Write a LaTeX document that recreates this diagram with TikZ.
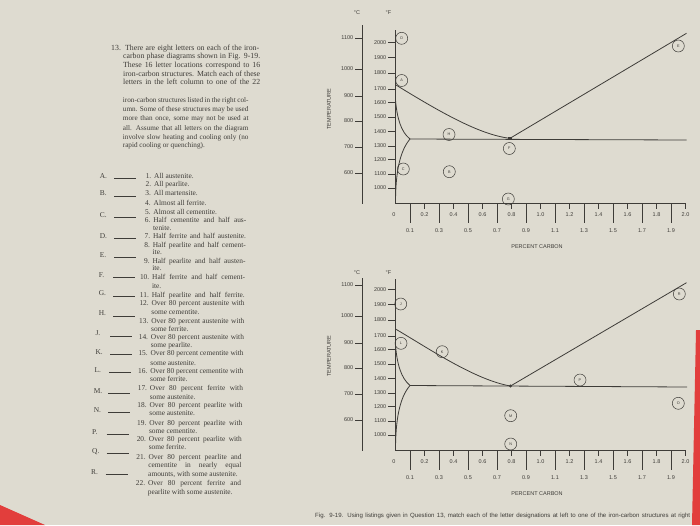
\documentclass[tikz,border=0pt]{standalone}
\usepackage{fontspec}
\setmainfont{Liberation Serif}
\setsansfont{Liberation Sans}
\definecolor{paper}{RGB}{222,219,208}
\definecolor{ink}{RGB}{62,60,56}
\definecolor{redc}{RGB}{226,62,60}
\tikzset{
  lab/.style={font=\sffamily\fontsize{5.5}{6}\selectfont, text=ink, inner sep=0pt},
  ltr/.style={circle, draw=ink, line width=0.5pt, minimum size=12pt, inner sep=0pt, font=\sffamily\fontsize{3.8}{4}\selectfont, text=ink},
  axisln/.style={draw=ink, line width=0.7pt},
  tickln/.style={draw=ink, line width=0.6pt},
  curve/.style={draw=ink, line width=0.8pt},
  para/.style={font=\fontsize{7.8}{8}\selectfont, text=ink, inner sep=0pt, anchor=base west},
  parb/.style={para, font=\fontsize{7.2}{8}\selectfont},
  listtxt/.style={font=\fontsize{7.4}{8}\selectfont, text=ink, inner sep=0pt},
  capt/.style={font=\sffamily\fontsize{6.1}{7}\selectfont, text=ink, inner sep=0pt, anchor=west},
  eut/.style={fill=ink, minimum size=3.2pt, inner sep=0pt},
}
\newcommand\ironframe[5]{%
\begin{scope}[shift={(0,#2)}]
  \node[lab] (#1dc) at (357,#5) {°C};
  \node[lab] (#1df) at (388.5,#5) {°F};
  \draw[axisln] (362,#3) -- (362,203.5);
  \draw[axisln] (395.5,#4) -- (395.5,203.5) -- (685.5,203.5);
  \foreach \v/\yy in {1100/38,1000/69,900/96,800/121,700/147,600/173}{
    \draw[tickln] (355,\yy) -- (362,\yy);
    \node[lab,anchor=east] (#1c\v) at (353.5,\yy) {\v};}
  \foreach \v/\yy in {2000/42.7,1900/57.5,1800/73,1700/89,1600/102.5,1500/117,1400/131.5,1300/146,1200/159.5,1100/174,1000/188}{
    \draw[tickln] (388.3,\yy) -- (395.5,\yy);
    \node[lab,anchor=east] (#1f\v) at (386.5,\yy) {\v};}
  \foreach \i/\t in {1/0.1,3/0.3,5/0.5,7/0.7,9/0.9,11/1.1,13/1.3,15/1.5,17/1.7,19/1.9}{
    \draw[tickln] ({395.5+14.5*\i},203.5) -- ({395.5+14.5*\i},223);
    \node[lab] (#1x\i) at ({395.5+14.5*\i},230.5) {\t};}
  \foreach \i/\t in {2/0.2,4/0.4,6/0.6,8/0.8,10/1.0,12/1.2,14/1.4,16/1.6,18/1.8,20/2.0}{
    \draw[tickln] ({395.5+14.5*\i},203.5) -- ({395.5+14.5*\i},208.5);
    \node[lab] (#1x\i) at ({395.5+14.5*\i},215) {\t};}
  \node[lab] (#1x0) at (394,215) {0};
  \node[lab] (#1pc) at (537,247) {PERCENT CARBON};
  \node[lab,rotate=90] (#1temp) at (329,109) {TEMPERATURE};
\end{scope}}
\newcommand\qitem[4]{%
  \pgfmathsetmacro\tx{154-(#3-176)*0.02}
  \node[listtxt,anchor=base west] (#1) at (\tx,#3+2.5) {#4};
  \node[listtxt,anchor=base east] (#1n) at (\tx-2.5,#3+2.5) {#2.};}
\newcommand\qjust[4]{%
  \pgfmathsetmacro\tx{154-(#3-176)*0.02}
  \node[listtxt,anchor=base west] (#1) at (\tx,#3+2.5) {\makebox[93pt][s]{#4}};
  \node[listtxt,anchor=base east] (#1n) at (\tx-2.5,#3+2.5) {#2.};}
\newcommand\qcont[3]{%
  \pgfmathsetmacro\tx{154-(#2-176)*0.02}
  \node[listtxt,anchor=base west] (#1) at (\tx,#2+2.5) {#3};}
\newcommand\qlet[3]{%
  \node[listtxt,anchor=base west] (lt#1) at (#2-3,#3+2.5) {#1.};
  \node[anchor=west,inner sep=0pt,text=ink] (bl#1) at (#2+11.5,#3+2.5) {\rule{22pt}{0.45pt}};}
\begin{document}
\begin{tikzpicture}[x=1pt,y=-1pt]
\useasboundingbox (0,0) rectangle (700,525);
\fill[paper] (0,0) rectangle (700,525);
\fill[redc] (0,505) -- (45,525) -- (0,525) -- cycle;
\fill[redc] (696,330) -- (700,330) -- (700,525) -- (692,525) -- cycle;

% ---------- question paragraph ----------
\node[para] (p1) at (111,50) {\makebox[14pt][l]{13.}\makebox[134pt][s]{There are eight letters on each of the iron-}};
\node[para] (p2) at (123,58.7) {\makebox[137pt][s]{carbon phase diagrams shown in Fig. 9-19.}};
\node[para] (p3) at (123,67.4) {\makebox[137pt][s]{These 16 letter locations correspond to 16}};
\node[para] (p4) at (123,76.1) {\makebox[137pt][s]{iron-carbon structures. Match each of these}};
\node[para] (p5) at (123,84.8) {\makebox[137pt][s]{letters in the left column to one of the 22}};
\node[parb] (p6) at (122.7,102.5) {\makebox[125.6pt][s]{iron-carbon structures listed in the right col-}};
\node[parb] (p7) at (122.7,111.7) {\makebox[125.6pt][s]{umn. Some of these structures may be used}};
\node[parb] (p8) at (122.7,120.9) {\makebox[125.6pt][s]{more than once, some may not be used at}};
\node[parb] (p9) at (122.7,130.1) {\makebox[125.6pt][s]{all. Assume that all letters on the diagram}};
\node[parb] (p10) at (122.7,139.1) {\makebox[125.6pt][s]{involve slow heating and cooling only (no}};
\node[parb] (p11) at (122.7,147.9) {rapid cooling or quenching).};

% ---------- letters with blanks ----------
\qlet{A}{102.7}{176}
\qlet{B}{102.7}{193.3}
\qlet{C}{102.7}{215}
\qlet{D}{102.7}{236}
\qlet{E}{102.7}{255}
\qlet{F}{101.7}{275}
\qlet{G}{101.7}{293.3}
\qlet{H}{101.7}{313.3}
\qlet{J}{98.3}{333.3}
\qlet{K}{98.3}{351.7}
\qlet{L}{97.3}{370}
\qlet{M}{96.7}{390.7}
\qlet{N}{96.7}{410}
\qlet{P}{95}{431.7}
\qlet{Q}{95}{450.7}
\qlet{R}{94}{471.7}

% ---------- structures list ----------
\qitem{i1}{1}{176}{All austenite.}
\qitem{i2}{2}{184.3}{All pearlite.}
\qitem{i3}{3}{193.3}{All martensite.}
\qitem{i4}{4}{202.7}{Almost all ferrite.}
\qitem{i5}{5}{211.7}{Almost all cementite.}
\qjust{i6}{6}{220}{Half cementite and half aus-}
\qcont{c6}{227.7}{tenite.}
\qjust{i7}{7}{236}{Half ferrite and half austenite.}
\qjust{i8}{8}{245}{Half pearlite and half cement-}
\qcont{c8}{252.3}{ite.}
\qjust{i9}{9}{260.7}{Half pearlite and half austen-}
\qcont{c9}{268.3}{ite.}
\qjust{i10}{10}{277.3}{Half ferrite and half cement-}
\qcont{c10}{285.7}{ite.}
\qjust{i11}{11}{295}{Half pearlite and half ferrite.}
\qjust{i12}{12}{303.3}{Over 80 percent austenite with}
\qcont{c12}{311.7}{some cementite.}
\qjust{i13}{13}{320.7}{Over 80 percent austenite with}
\qcont{c13}{329.3}{some ferrite.}
\qjust{i14}{14}{336.7}{Over 80 percent austenite with}
\qcont{c14}{345}{some pearlite.}
\qjust{i15}{15}{353.3}{Over 80 percent cementite with}
\qcont{c15}{362.7}{some austenite.}
\qjust{i16}{16}{370.7}{Over 80 percent cementite with}
\qcont{c16}{379.3}{some ferrite.}
\qjust{i17}{17}{388.3}{Over 80 percent ferrite with}
\qcont{c17}{396.7}{some austenite.}
\qjust{i18}{18}{405}{Over 80 percent pearlite with}
\qcont{c18}{413.3}{some austenite.}
\qjust{i19}{19}{422.7}{Over 80 percent pearlite with}
\qcont{c19}{431}{some cementite.}
\qjust{i20}{20}{439.3}{Over 80 percent pearlite with}
\qcont{c20}{447.3}{some ferrite.}
\qjust{i21}{21}{456.7}{Over 80 percent pearlite and}
\pgfmathsetmacro\tx{154-(465-176)*0.02}
\node[listtxt,anchor=base west] (c21a) at (\tx,467.5) {\makebox[93pt][s]{cementite in nearly equal}};
\qcont{c21b}{474}{amounts, with some austenite.}
\qjust{i22}{22}{482.7}{Over 80 percent ferrite and}
\qcont{c22}{491.7}{pearlite with some austenite.}

% ---------- diagram frames ----------
\ironframe{t}{0}{25}{30}{13}
\ironframe{b}{247}{31}{32.3}{25.3}

% ---------- top diagram curves ----------
\coordinate (tA3) at (396,85);
\coordinate (tEu) at (510,138.3);
\coordinate (tAcm) at (686.5,33.3);
\coordinate (tTri) at (410,139);
\coordinate (tA1e) at (686.5,140);
\coordinate (tFe1) at (395.5,100);
\coordinate (tFe2) at (395.5,203.5);
\draw[curve] (tA3) .. controls (440,112) and (480,135) .. (tEu);
\draw[curve] (tEu) -- (tAcm);
\draw[curve] (tTri) -- (tA1e);
\draw[curve] (tFe1) .. controls (397,118) and (401,132) .. (tTri);
\draw[curve] (tTri) .. controls (399,152) and (395.5,175) .. (tFe2);
\node[eut] (tEum) at (tEu) {};

\node[ltr] (lD) at (401.7,38.3) {D};
\node[ltr] (lA) at (401.7,80.5) {A};
\node[ltr] (lH) at (449,134.5) {H};
\node[ltr] (lF) at (509.3,148.5) {F};
\node[ltr] (lE) at (678.3,46) {E};
\node[ltr] (lC) at (403.3,169) {C};
\node[ltr] (lB) at (449.3,171.7) {B};
\node[ltr] (lG) at (508.3,199) {G};

% ---------- bottom diagram curves ----------
\coordinate (bA3) at (396,329.3);
\coordinate (bEu) at (510.5,386);
\coordinate (bAcm) at (686.5,282.7);
\coordinate (bTri) at (410,385.5);
\coordinate (bA1e) at (687,387);
\coordinate (bFe1) at (395.5,345);
\coordinate (bFe2) at (395.5,450.5);
\draw[curve] (bA3) .. controls (428,348) and (475,380) .. (bEu);
\draw[curve] (bEu) -- (bAcm);
\draw[curve] (bTri) -- (bA1e);
\draw[curve] (bFe1) .. controls (397,364) and (401,378) .. (bTri);
\draw[curve] (bTri) .. controls (399,398) and (395.5,422) .. (bFe2);
\node[eut,circle] (bEum) at (bEu) {};

\node[ltr] (lJ) at (400.7,304) {J};
\node[ltr] (lL) at (401,343.3) {L};
\node[ltr] (lK) at (442.2,351.7) {K};
\node[ltr] (lP) at (580,380) {P};
\node[ltr] (lR) at (679.3,294) {R};
\node[ltr] (lO) at (678.3,403.3) {O};
\node[ltr] (lM) at (510.7,415.7) {M};
\node[ltr] (lN) at (510.7,444) {N};

% ---------- caption ----------
\node[capt] (cap) at (315,516) {\makebox[375pt][s]{Fig. 9-19. Using listings given in Question 13, match each of the letter designations at left to one of the iron-carbon structures at right}};
\end{tikzpicture}
\end{document}
